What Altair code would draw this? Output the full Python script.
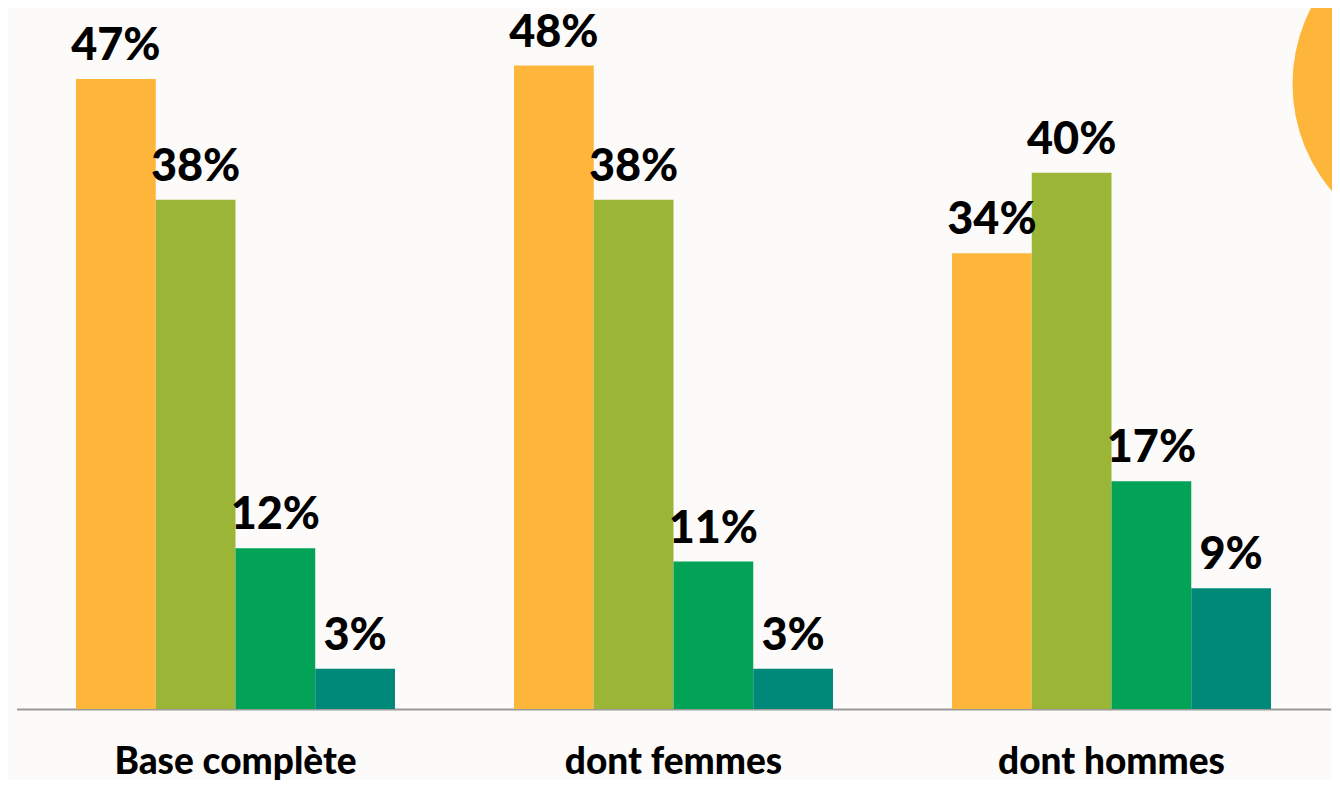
import altair as alt
import pandas as pd

categories = ["Base complète", "dont femmes", "dont hommes"]
series = ["s1", "s2", "s3", "s4"]
colors = ["#FDB63A", "#9BB537", "#02A357", "#008878"]
values = {
    "Base complète": [47, 38, 12, 3],
    "dont femmes": [48, 38, 11, 3],
    "dont hommes": [34, 40, 17, 9],
}

rows = []
for c in categories:
    for s, v in zip(series, values[c]):
        rows.append({"cat": c, "serie": s, "val": v, "label": f"{v}%"})
df = pd.DataFrame(rows)

FONT = "Lato"

base = alt.Chart(df).encode(
    x=alt.X("cat:N", sort=categories, title=None,
            scale=alt.Scale(paddingInner=0.2717, paddingOuter=0.1358),
            axis=alt.Axis(labelFont=FONT, labelFontSize=37, labelFontWeight=900,
                          labelColor="#000000", labelAngle=0, ticks=False,
                          tickSize=0, labelPadding=64, labelBaseline="alphabetic",
                          labelLimit=0, labelOverlap=False,
                          domainColor="#999999", domainWidth=2, grid=False)),
    xOffset=alt.XOffset("serie:N", sort=series,
                        scale=alt.Scale(paddingInner=0, paddingOuter=0)),
    y=alt.Y("val:Q", scale=alt.Scale(domain=[0, 52], nice=False), axis=None),
)

bars = base.mark_bar(stroke=None).encode(
    color=alt.Color("serie:N", sort=series,
                    scale=alt.Scale(domain=series, range=colors), legend=None)
)

texts = base.mark_text(font=FONT, fontSize=45, fontWeight=900, color="#000000",
                       baseline="alphabetic", dy=-19).encode(text="label:N")

deco = alt.Chart(pd.DataFrame({"d": [0]})).mark_circle(
    color="#FDB63A", opacity=1, size=108900
).encode(x=alt.value(1441), y=alt.value(72))

chart = alt.layer(deco, bars, texts).properties(
    width=1314, height=697,
    background="#FCFBF9",
    autosize=alt.AutoSizeParams(type="none"),
    padding={"left": 8.5, "top": 4, "right": 1.5, "bottom": 71},
).configure_view(stroke=None)

chart.save("out.html", embed_options={"renderer": "svg", "actions": False})
